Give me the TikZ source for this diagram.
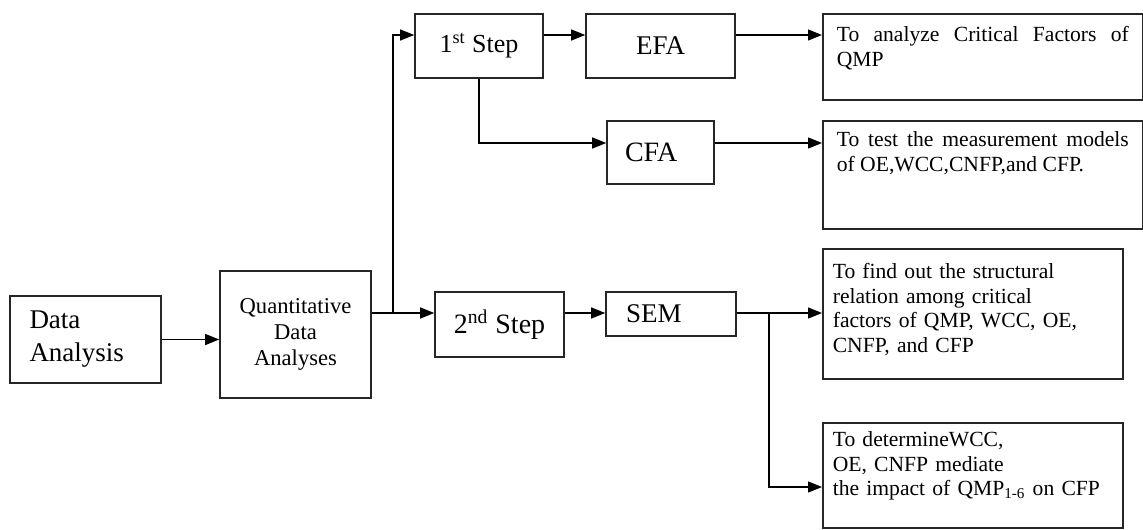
\documentclass[tikz,border=0pt]{standalone}
\usepackage{fontspec}
\setmainfont{Liberation Serif}
\usetikzlibrary{arrows.meta}

\begin{document}
\begin{tikzpicture}[x=0.5pt,y=-0.5pt,
  box/.style={draw=black!85,line width=0.8pt,inner sep=0pt,align=center},
  outbox/.style={draw=black!85,line width=0.8pt,anchor=north west,inner xsep=5pt,inner ysep=0pt,text height=14pt,font=\fontsize{10.8}{12.2}\selectfont},
  arr/.style={-{Triangle[length=7pt,width=5.5pt]},line width=0.65pt},
  wire/.style={line width=0.65pt}]
  \useasboundingbox (0,0) rectangle (1143,529);
  % arrow rows
  \coordinate (rowA) at (0,35);
  \coordinate (rowB) at (0,143);
  \coordinate (rowD) at (0,487);
  \coordinate (fork) at (393,313);
  \coordinate (split) at (769,313);
  % left boxes
  \node[box,minimum width=75.5pt,minimum height=43.5pt,text width=56pt,align=left,font=\fontsize{13.5}{16.5}\selectfont] (da) at (85.5,339.5) {Data\\Analysis};
  \node[box,minimum width=75.5pt,minimum height=63.5pt,font=\fontsize{11.3}{13}\selectfont] (qa) at (295.5,334.5) {Quantitative\\Data\\Analyses};
  % steps and methods
  \node[box,minimum width=64pt,minimum height=32pt,font=\fontsize{13}{15}\selectfont] (s1) at (479,46) {1\textsuperscript{st} Step};
  \node[box,minimum width=74.5pt,minimum height=32pt,font=\fontsize{13.5}{15}\selectfont] (efa) at (660.5,46) {EFA};
  \node[box,minimum width=53.5pt,minimum height=31.5pt,text width=35.5pt,align=left,font=\fontsize{14}{15}\selectfont] (cfa) at (660.5,152.5) {CFA};
  \node[box,minimum width=64.5pt,minimum height=32.5pt,font=\fontsize{14}{16}\selectfont] (s2) at (499.5,324.5) {2\textsuperscript{nd} Step};
  \node[box,minimum width=65pt,minimum height=22pt,text width=45pt,align=left,font=\fontsize{13.5}{15}\selectfont] (sem) at (671,314) {SEM};
  % aims
  \node[outbox,minimum width=160pt,inner xsep=7pt,text width=146pt,align=justify,text depth=29pt] (r1) at (822,13) {To analyze Critical Factors of\linebreak QMP};
  \node[outbox,minimum width=160pt,inner xsep=7pt,text width=146pt,align=justify,text height=13pt,text depth=41pt] (r2) at (822,120) {To test the measurement models\linebreak of OE,WCC,CNFP,and CFP.};
  \node[outbox,minimum width=150pt,text width=140pt,align=left,text height=15pt,text depth=50pt] (r3) at (822,248) {To find out the structural\\relation among critical\\factors of QMP, WCC, OE,\\CNFP, and CFP};
  \node[outbox,minimum width=150pt,text width=140pt,align=left,text height=12pt,text depth=40.5pt] (r4) at (822,422) {To determineWCC,\\OE, CNFP mediate\\the impact of QMP\textsubscript{1-6} on CFP};
  % links
  \draw[arr] (da.east) -- (da.east -| qa.west);
  \draw[wire] (qa.east |- fork) -- (fork);
  \draw[arr] (fork) |- (s1.west |- rowA);
  \draw[arr] (fork) -- (s2.west |- fork);
  \draw[arr] (s1.east |- rowA) -- (efa.west |- rowA);
  \draw[arr] (efa.east |- rowA) -- (r1.west |- rowA);
  \draw[arr] (s1.south) |- (cfa.west |- rowB);
  \draw[arr] (cfa.east |- rowB) -- (r2.west |- rowB);
  \draw[arr] (s2.east |- fork) -- (sem.west |- fork);
  \draw[arr] (sem.east |- fork) -- (r3.west |- fork);
  \draw[arr] (split) |- (r4.west |- rowD);
\end{tikzpicture}
\end{document}
